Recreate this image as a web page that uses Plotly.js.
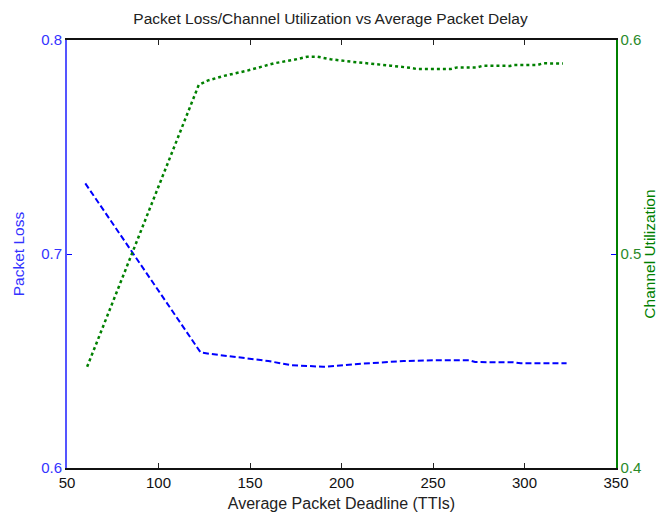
<!DOCTYPE html>
<html>
<head>
<meta charset="utf-8">
<script src="https://cdn.plot.ly/plotly-3.0.1.min.js"></script>
<style>html,body{margin:0;padding:0;background:#fff;}#chart{width:661px;height:520px;}</style>
</head>
<body>
<div id="chart"></div>
<script>
// Packet loss (left axis)
const lossX = [60, 123, 128.6, 145, 160, 172, 190, 209, 225, 234, 250, 270, 273, 294, 298, 323];
const lossY = [0.733, 0.654, 0.6533, 0.6514, 0.650, 0.6481, 0.6473, 0.6486, 0.6495, 0.650, 0.6503, 0.6503, 0.6495, 0.6494, 0.6489, 0.6489];
// Channel utilization (right axis)
const utilX = [61, 122, 126.8, 135.6, 148.6, 163, 173.8, 181.3, 186.8, 194, 205, 215.8, 226.8, 237.7, 241.3, 259.5, 263.2, 274, 277.5, 292.2, 293.9, 306.8, 310.2, 321];
const utilY = [0.4473, 0.579, 0.581, 0.5832, 0.5857, 0.5891, 0.5907, 0.5922, 0.5922, 0.591, 0.5899, 0.5891, 0.588, 0.587, 0.5864, 0.5864, 0.5872, 0.5872, 0.588, 0.5879, 0.5883, 0.5883, 0.5891, 0.589];
const xTicks = [50, 100, 150, 200, 250, 300, 350];
const leftTicks = [0.6, 0.7, 0.8];
const rightTicks = [0.4, 0.5, 0.6];

const FONT = 'Liberation Sans, Arial, sans-serif';
const BLUE = '#0000ff';
const GREEN = '#008000';

const traces = [
  {x: lossX, y: lossY, type: 'scatter', mode: 'lines', name: 'Packet Loss',
   line: {color: BLUE, width: 2, dash: '6px,3px'}, yaxis: 'y'},
  {x: utilX, y: utilY, type: 'scatter', mode: 'lines', name: 'Channel Utilization',
   line: {color: GREEN, width: 2.5, dash: 'dot'}, yaxis: 'y2'}
];

const layout = {
  width: 661, height: 520,
  margin: {l: 67, r: 45, t: 40, b: 52},
  paper_bgcolor: '#fff', plot_bgcolor: '#fff',
  showlegend: false,
  font: {family: FONT, size: 15, color: '#222'},
  title: {text: 'Packet Loss/Channel Utilization vs Average Packet Delay',
          font: {family: FONT, size: 15.5, color: '#222'}, x: 0.5, xanchor: 'center', y: 0.965, yanchor: 'middle'},
  xaxis: {
    range: [50, 350], tickvals: xTicks, ticktext: xTicks.map(String),
    ticks: 'inside', ticklen: 5, tickcolor: '#222', mirror: 'ticks',
    showline: true, linecolor: '#111', linewidth: 2,
    showgrid: false, zeroline: false,
    tickfont: {family: FONT, size: 15, color: '#111'},
    title: {text: 'Average Packet Deadline (TTIs)', font: {family: FONT, size: 16, color: '#222'}, standoff: 8}
  },
  yaxis: {
    range: [0.6, 0.8], tickvals: leftTicks, ticktext: leftTicks.map(v => v.toFixed(1)),
    ticks: 'inside', ticklen: 5, tickcolor: BLUE,
    showline: true, linecolor: '#5555ff', linewidth: 2,
    showgrid: false, zeroline: false,
    tickfont: {family: FONT, size: 15, color: '#3333ff'},
    title: {text: 'Packet Loss', font: {family: FONT, size: 15.5, color: '#3333ff'}, standoff: 13}
  },
  yaxis2: {
    range: [0.4, 0.6], tickvals: rightTicks, ticktext: rightTicks.map(v => v.toFixed(1)),
    overlaying: 'y', side: 'right', anchor: 'x',
    ticks: 'inside', ticklen: 5, tickcolor: BLUE,
    showline: true, linecolor: GREEN, linewidth: 1.5,
    showgrid: false, zeroline: false,
    tickfont: {family: FONT, size: 15, color: '#2a8a2a'},
    title: {text: 'Channel Utilization', font: {family: FONT, size: 15.5, color: GREEN}, standoff: 4}
  }
};

Plotly.newPlot('chart', traces, layout, {staticPlot: true, displayModeBar: false});
</script>
</body>
</html>
